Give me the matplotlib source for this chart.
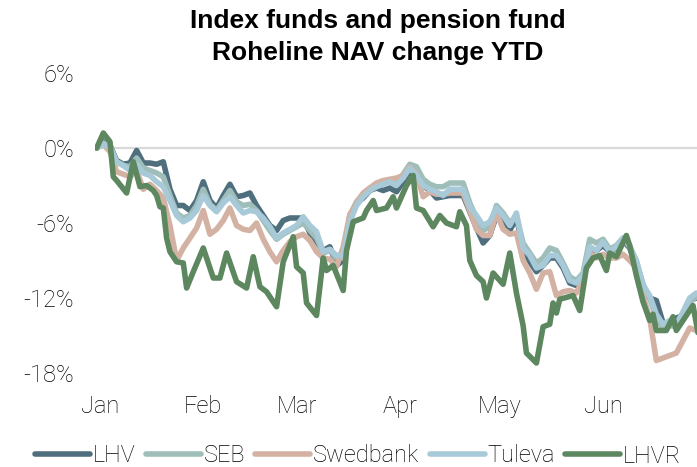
import pandas as pd
import matplotlib
matplotlib.use("Agg")
import matplotlib.pyplot as plt
import matplotlib.dates as mdates

# days counted from 31 Dec 2021, values in % change YTD
base = pd.Timestamp("2021-12-31")
grid_days = list(range(0, 181, 2))

lhv = [0.0, 0.5, 0.2, -1.0, -1.3, -1.2, -0.2, -1.2, -1.2, -1.3,
       -1.1, -3.3, -4.6, -4.6, -5.0, -4.2, -2.7, -4.2, -4.8, -3.8,
       -2.9, -3.9, -3.8, -3.6, -4.6, -5.4, -6.2, -6.6, -5.8, -5.6,
       -5.6, -5.6, -6.8, -7.5, -8.2, -7.9, -9.4, -9.0, -5.4, -4.4,
       -4.0, -3.4, -3.2, -3.4, -3.2, -3.5, -2.7, -1.8, -2.6, -3.0,
       -3.4, -4.0, -3.9, -3.8, -3.8, -3.8, -5.1, -6.4, -7.6, -7.0,
       -5.4, -5.6, -6.6, -5.6, -8.0, -9.1, -9.9, -9.4, -8.8, -8.8,
       -9.6, -10.8, -11.0, -10.4, -8.2, -8.2, -7.8, -8.3, -8.0, -7.4,
       -8.0, -9.4, -11.0, -12.0, -12.2, -14.0, -14.2, -13.6, -13.4, -12.2,
       -12.0]

seb = [0.0, 0.4, 0.1, -1.1, -1.4, -1.5, -0.8, -1.6, -1.8, -2.0,
       -2.3, -3.8, -5.2, -5.6, -5.4, -4.6, -3.3, -4.5, -5.0, -4.2,
       -3.4, -4.3, -4.6, -4.5, -5.0, -5.8, -6.6, -7.3, -6.9, -6.6,
       -6.3, -6.0, -6.6, -7.2, -8.4, -8.2, -8.8, -8.8, -5.5, -4.3,
       -3.7, -3.2, -3.0, -2.8, -2.6, -2.8, -2.1, -1.3, -1.5, -2.5,
       -2.9, -3.1, -3.1, -2.8, -2.8, -2.8, -4.4, -5.6, -6.6, -6.3,
       -4.6, -5.2, -6.0, -5.4, -7.6, -8.4, -9.2, -8.8, -8.0, -8.2,
       -9.2, -10.3, -10.6, -10.0, -7.3, -7.6, -7.3, -8.1, -7.8, -7.2,
       -7.9, -9.0, -10.9, -12.0, -13.6, -14.4, -14.2, -14.3, -13.4, -12.3,
       -11.9]

swedbank = [0.0, 0.3, -0.3, -1.9, -2.1, -2.3, -1.8, -3.3, -2.9, -3.4,
            -4.0, -6.2, -9.0, -8.0, -7.2, -6.4, -5.0, -6.9, -6.5, -5.8,
            -4.8, -6.2, -6.5, -6.6, -6.0, -7.3, -8.3, -9.1, -8.2, -7.5,
            -7.1, -6.9, -7.4, -8.3, -8.8, -8.9, -9.5, -7.9, -5.3, -4.4,
            -3.6, -3.2, -2.8, -2.6, -2.5, -2.4, -2.2, -1.5, -2.1, -3.9,
            -3.5, -3.7, -3.7, -3.6, -3.6, -3.6, -5.0, -6.5, -7.0, -7.0,
            -5.2, -6.5, -6.9, -6.8, -9.0, -10.0, -11.3, -10.0, -9.9, -11.8,
            -11.5, -11.4, -11.6, -10.5, -8.4, -8.8, -8.5, -8.8, -8.8, -8.5,
            -9.0, -9.6, -11.8, -13.6, -17.0, -16.8, -16.6, -16.4, -15.4, -14.4,
            -14.6]

tuleva = [0.0, 0.3, 0.1, -1.1, -1.4, -1.8, -1.3, -2.0, -2.2, -2.7,
          -3.1, -4.2, -5.4, -5.9, -5.6, -5.0, -3.8, -4.6, -5.1, -4.4,
          -3.9, -4.6, -5.2, -5.0, -5.1, -5.6, -6.3, -7.2, -6.8, -6.5,
          -6.2, -5.5, -6.2, -6.7, -8.3, -8.1, -8.6, -8.6, -5.9, -4.6,
          -3.9, -3.4, -3.1, -2.9, -2.7, -3.0, -2.4, -1.6, -2.2, -3.0,
          -3.3, -3.5, -3.8, -3.3, -3.3, -3.3, -4.7, -5.4, -6.2, -5.9,
          -4.8, -5.4, -6.2, -5.2, -8.0, -8.6, -9.6, -9.4, -8.6, -8.6,
          -9.4, -10.6, -10.8, -10.2, -7.9, -8.2, -7.5, -8.3, -7.9, -7.2,
          -7.8, -9.1, -11.0, -11.8, -13.3, -14.1, -13.8, -14.1, -13.1, -12.0,
          -11.6]

lhvr_days = [0, 2, 4, 5, 6, 9, 11, 13, 15, 17,
             18, 19, 20, 21, 22, 24, 26, 27, 29, 32,
             35, 37, 39, 42, 45, 47, 49, 51, 54, 56,
             59, 60, 62, 63, 66, 68, 69, 71, 74, 75,
             77, 80, 81, 83, 84, 87, 89, 90, 93, 95,
             96, 98, 101, 103, 105, 108, 109, 111, 112, 114,
             116, 117, 119, 122, 124, 126, 128, 129, 132, 134,
             136, 137, 138, 139, 143, 145, 147, 149, 151, 153,
             154, 156, 159, 160, 162, 164, 166, 167, 168, 171,
             173, 174, 177, 179, 181]
lhvr = [0.0, 1.2, 0.5, -2.3, -2.6, -3.6, -1.1, -3.1, -3.0, -3.4,
        -3.8, -4.7, -4.8, -7.2, -8.3, -9.1, -9.2, -11.2, -9.9, -8.0,
        -10.4, -10.4, -8.4, -10.7, -11.2, -8.7, -11.1, -11.5, -12.7, -9.1,
        -7.1, -9.5, -10.0, -12.4, -13.4, -8.8, -9.8, -9.4, -11.4, -8.2,
        -5.9, -5.6, -5.0, -4.2, -5.0, -4.8, -3.9, -4.8, -3.0, -2.2,
        -4.8, -5.0, -6.3, -5.4, -6.0, -6.3, -5.1, -6.2, -9.0, -10.2,
        -10.7, -12.0, -10.0, -10.9, -8.4, -11.6, -14.2, -16.4, -17.2, -14.3,
        -14.1, -12.4, -13.2, -12.1, -11.8, -13.0, -9.6, -8.8, -8.6, -9.8,
        -8.4, -8.7, -7.0, -7.8, -10.2, -12.3, -13.8, -13.3, -14.6, -14.6,
        -13.5, -14.6, -13.4, -12.6, -15.5]

names = ["LHV", "SEB", "Swedbank", "Tuleva", "LHVR"]
colors = ["#4f6f7e", "#9fbeb9", "#d3b2a3", "#a8cad8", "#5c875f"]

grid_dates = base + pd.to_timedelta(grid_days, unit="D")
lhvr_dates = base + pd.to_timedelta(lhvr_days, unit="D")

fig = plt.figure(figsize=(6.97, 4.67), dpi=100)
ax = fig.add_axes([95 / 697, 82 / 467, 602 / 697, 320 / 467])

ax.axhline(0, color="#d9d9d9", lw=1.6, zorder=0)

line_kw = dict(lw=4, solid_joinstyle="round", solid_capstyle="round")
series = [(grid_dates, lhv), (grid_dates, seb), (grid_dates, swedbank),
          (grid_dates, tuleva), (lhvr_dates, lhvr)]
for (x, y), name, c in zip(series, names, colors):
    ax.plot(x, y, color=c, label=name, **line_kw)

ax.set_xlim(base - pd.Timedelta(days=0.5), base + pd.Timedelta(days=180.2))
ax.set_ylim(-18.96, 6.64)
ax.set_yticks([6, 0, -6, -12, -18])
ax.set_yticklabels(["6%", "0%", "-6%", "-12%", "-18%"])
ax.xaxis.set_major_locator(mdates.MonthLocator())
ax.xaxis.set_major_formatter(mdates.DateFormatter("%b"))

for s in ax.spines.values():
    s.set_visible(False)
ax.tick_params(length=0, labelsize=17, colors="#000000")
ax.tick_params(axis="y", pad=15)
ax.tick_params(axis="x", pad=7)
for lab in ax.get_xticklabels() + ax.get_yticklabels():
    lab.set_fontfamily("Roboto")
    lab.set_fontweight("light")

fig.text(0.542, 1 - 9 / 467, "Index funds and pension fund\nRoheline NAV change YTD",
         ha="center", va="top", fontsize=19, fontweight="bold",
         family="Liberation Sans", linespacing=1.4)

leg = fig.legend(loc="center left", bbox_to_anchor=(35 / 697, 11 / 467), ncol=5,
                 frameon=False, borderaxespad=0, borderpad=0,
                 handlelength=2.33, handletextpad=0.13, columnspacing=0.42,
                 prop={"family": "Roboto", "weight": "light", "size": 17})

fig.savefig("out.png", dpi=100)
